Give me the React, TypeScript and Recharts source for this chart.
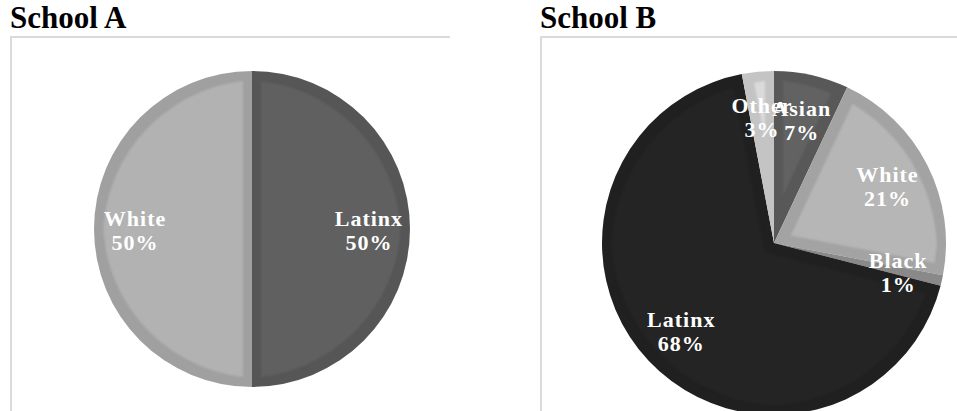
import React from "react";
import { PieChart, Pie, Cell } from "recharts";

// School A enrolment by group (percent)
const schoolANames = ["Latinx", "White"];
const schoolAValues = [50, 50];
const schoolAColors = ["#606060", "#b2b2b2"];

// School B enrolment by group (percent), clockwise from 12 o'clock
const schoolBNames = ["Asian", "White", "Black", "Latinx", "Other"];
const schoolBValues = [7, 21, 1, 68, 3];
const schoolBColors = ["#626262", "#b6b6b6", "#999999", "#242424", "#dadada"];

const titles = ["School A", "School B"];

const FONT = "'Liberation Serif', 'Times New Roman', serif";
const RAD = Math.PI / 180;

const toRows = (names: string[], values: number[]) =>
  names.map((name, i) => ({ name, value: values[i] }));

const renderLabel = (props: any) => {
  const { cx, cy, midAngle, outerRadius, name, value } = props;
  const r = outerRadius * 0.74;
  const x = cx + r * Math.cos(-midAngle * RAD);
  const y = cy + r * Math.sin(-midAngle * RAD);
  return (
    <text
      x={x}
      y={y}
      textAnchor="middle"
      fill="#ffffff"
      fontFamily={FONT}
      fontWeight="bold"
      fontSize={22}
      letterSpacing={1}
    >
      <tspan x={x} y={y - 3}>
        {name}
      </tspan>
      <tspan x={x} y={y + 21}>
        {`${value}%`}
      </tspan>
    </text>
  );
};

type PanelProps = {
  title: string;
  left: number;
  width: number;
  cx: number;
  cy: number;
  radius: number;
  names: string[];
  values: number[];
  colors: string[];
};

function Panel({ title, left, width, cx, cy, radius, names, values, colors }: PanelProps) {
  const rows = toRows(names, values);
  return (
    <div style={{ position: "absolute", left, top: 0, width, height: 411 }}>
      <div
        style={{
          position: "absolute",
          left: 0,
          top: 0,
          fontFamily: FONT,
          fontWeight: "bold",
          fontSize: 31,
          lineHeight: "36px",
          color: "#000",
          whiteSpace: "nowrap",
        }}
      >
        {title}
      </div>
      <div
        style={{
          position: "absolute",
          left: 0,
          top: 36,
          width: width,
          height: 380,
          borderTop: "2px solid #dadada",
          borderLeft: "2px solid #dadada",
          boxSizing: "border-box",
        }}
      />
      <div style={{ position: "absolute", left: 0, top: 37 }}>
        <PieChart width={width} height={374}>
          <Pie
            data={rows}
            dataKey="value"
            nameKey="name"
            cx={cx}
            cy={cy}
            outerRadius={radius}
            startAngle={90}
            endAngle={-270}
            stroke="none"
            label={renderLabel}
            labelLine={false}
            isAnimationActive={false}
          >
            {rows.map((row, i) => (
              <Cell key={row.name} fill={colors[i]} filter="url(#sliceBevel)" />
            ))}
          </Pie>
        </PieChart>
      </div>
    </div>
  );
}

export default function App() {
  return (
    <div
      style={{
        position: "absolute",
        left: 0,
        top: 0,
        width: 957,
        height: 411,
        overflow: "hidden",
        background: "#ffffff",
      }}
    >
      <svg width={0} height={0} style={{ position: "absolute" }}>
        <defs>
          <filter
            id="sliceBevel"
            x="-10%"
            y="-10%"
            width="120%"
            height="120%"
            colorInterpolationFilters="sRGB"
          >
            <feComponentTransfer in="SourceGraphic" result="band">
              <feFuncR type="linear" slope={0.9} />
              <feFuncG type="linear" slope={0.9} />
              <feFuncB type="linear" slope={0.9} />
            </feComponentTransfer>
            <feMorphology in="SourceGraphic" operator="erode" radius={9} result="eroded" />
            <feGaussianBlur in="eroded" stdDeviation={1.2} result="inner" />
            <feComposite in="inner" in2="SourceAlpha" operator="in" result="innerClip" />
            <feMerge>
              <feMergeNode in="band" />
              <feMergeNode in="innerClip" />
            </feMerge>
          </filter>
        </defs>
      </svg>
      <Panel
        title={titles[0]}
        left={10}
        width={440}
        cx={237}
        cy={187}
        radius={158}
        names={schoolANames}
        values={schoolAValues}
        colors={schoolAColors}
      />
      <Panel
        title={titles[1]}
        left={540}
        width={417}
        cx={229}
        cy={201}
        radius={172}
        names={schoolBNames}
        values={schoolBValues}
        colors={schoolBColors}
      />
    </div>
  );
}
